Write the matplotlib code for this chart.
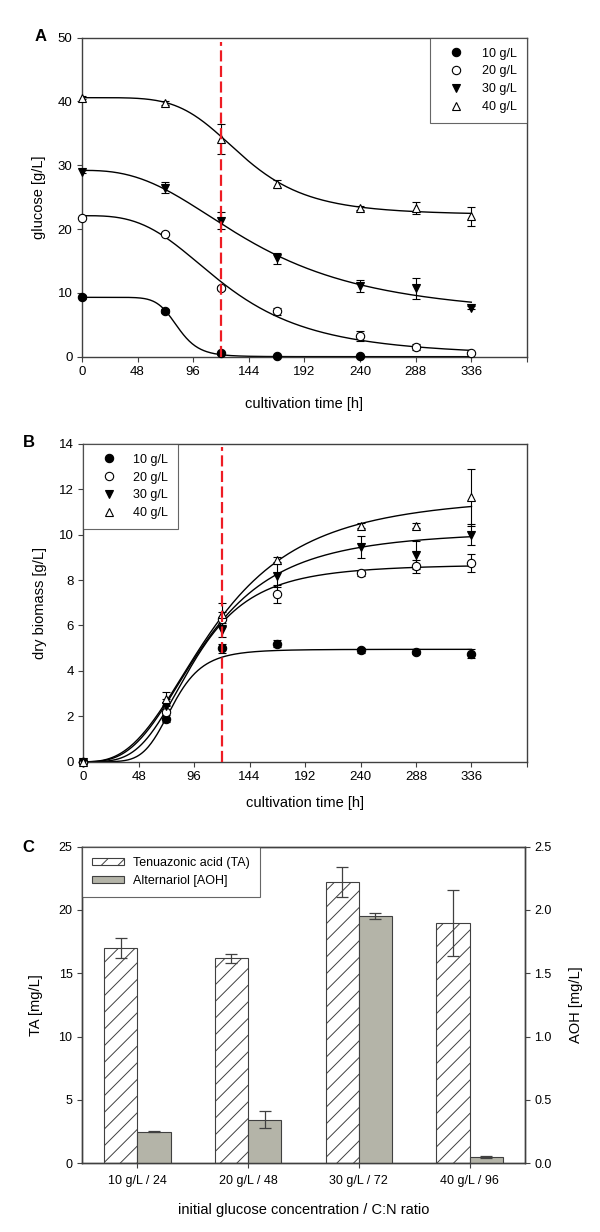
import matplotlib
matplotlib.use("Agg")
import matplotlib.pyplot as plt
from matplotlib.patches import Patch
import numpy as np

plt.rcParams['font.family'] = ['Liberation Sans', 'DejaVu Sans']
plt.rcParams['hatch.linewidth'] = 0.7

DARK = '#404040'
series = ['10 g/L', '20 g/L', '30 g/L', '40 g/L']
times = [0, 72, 120, 168, 240, 288, 336]

# ---- panel A: glucose [g/L] ----
glc_10_t = [0, 72, 120, 168, 240]
glc_10 = [9.3, 7.2, 0.5, 0.1, 0.05]
glc_10_err = [0.3, 0.3, 0.3, 0.1, 0.1]
glc_20 = [21.8, 19.3, 10.8, 7.1, 3.3, 1.5, 0.6]
glc_20_err = [0.2, 0.3, 0.3, 0.5, 0.8, 0.5, 0.2]
glc_30 = [29.0, 26.5, 21.3, 15.4, 11.1, 10.7, 7.7]
glc_30_err = [0.2, 0.9, 1.3, 0.9, 0.95, 1.65, 0.3]
glc_40 = [40.6, 39.8, 34.1, 27.1, 23.3, 23.3, 22.0]
glc_40_err = [0.2, 0.3, 2.4, 0.6, 0.3, 1.0, 1.5]

# fitted sigmoid (start, end, t50, slope)
glc_fit = {'10 g/L': (9.3, 0.0, 82.6, 9.0),
           '20 g/L': (22.1, 0.0, 125.0, 3.1),
           '30 g/L': (29.2, 6.0, 150.0, 2.6),
           '40 g/L': (40.6, 22.2, 139.0, 4.8)}

# ---- panel B: dry biomass [g/L] ----
bio_10 = [0.0, 1.9, 5.0, 5.2, 4.9, 4.85, 4.75]
bio_10_err = [0.05, 0.15, 0.2, 0.15, 0.1, 0.1, 0.2]
bio_20 = [0.0, 2.2, 6.3, 7.4, 8.3, 8.6, 8.75]
bio_20_err = [0.05, 0.3, 0.3, 0.4, 0.1, 0.3, 0.4]
bio_30 = [0.0, 2.45, 5.8, 8.2, 9.45, 9.1, 10.0]
bio_30_err = [0.05, 0.3, 0.3, 0.5, 0.5, 0.6, 0.45]
bio_40 = [0.0, 2.75, 6.5, 8.9, 10.4, 10.4, 11.65]
bio_40_err = [0.05, 0.3, 0.5, 0.1, 0.1, 0.1, 1.25]

bio_fit = {'10 g/L': (4.95, 77.5, 5.9),
           '20 g/L': (8.7, 95.2, 3.7),
           '30 g/L': (10.2, 103.6, 3.0),
           '40 g/L': (11.8, 113.0, 2.75)}

# ---- panel C: mycotoxins ----
conditions = ['10 g/L / 24', '20 g/L / 48', '30 g/L / 72', '40 g/L / 96']
ta = [17.0, 16.2, 22.2, 19.0]
ta_err = [0.8, 0.35, 1.2, 2.6]
aoh = [0.25, 0.345, 1.95, 0.05]
aoh_err = [0.005, 0.065, 0.025, 0.005]

markers = {'10 g/L': ('o', 'black'), '20 g/L': ('o', 'white'),
           '30 g/L': ('v', 'black'), '40 g/L': ('^', 'white')}


def style_axes(ax, size=9.5):
    for sp in ax.spines.values():
        sp.set_color(DARK)
        sp.set_linewidth(1.0)
    ax.tick_params(direction='out', length=3.3, width=0.8, color=DARK,
                   labelsize=size, pad=3.5)


def time_axis(ax):
    ax.set_xlim(0, 384)
    ax.set_xticks(np.arange(0, 385, 48))
    ax.set_xticklabels([str(v) for v in range(0, 337, 48)] + [''])


fig = plt.figure(figsize=(6, 12.32), dpi=100)
t_fit = np.linspace(0, 336, 400)

# ---------------- A ----------------
axA = fig.add_axes([0.1365, 0.7105, 0.7417, 0.2589])
style_axes(axA)
dataA = {'10 g/L': (glc_10_t, glc_10, glc_10_err),
         '20 g/L': (times, glc_20, glc_20_err),
         '30 g/L': (times, glc_30, glc_30_err),
         '40 g/L': (times, glc_40, glc_40_err)}
handlesA = []
for name in series:
    a, c, t50, n = glc_fit[name]
    axA.plot(t_fit, c + (a - c) / (1 + (t_fit / t50) ** n), color='black', lw=1.0, zorder=2)
    t, y, e = dataA[name]
    axA.errorbar(t, y, yerr=e, fmt='none', ecolor='black', elinewidth=0.8,
                 capsize=3, capthick=0.8, zorder=3)
    m, fc = markers[name]
    h, = axA.plot(t, y, ls='none', marker=m, ms=6, mfc=fc, mec='black',
                  mew=0.8, label=name, zorder=4, clip_on=False)
    handlesA.append(h)
axA.axvline(120, ymax=0.988, color='#ee1c24', lw=1.6, ls=(0, (5, 2)), zorder=5)
time_axis(axA)
axA.set_ylim(0, 50)
axA.set_yticks(range(0, 51, 10))
axA.set_xlabel('cultivation time [h]', fontsize=10.5, va='center')
axA.xaxis.set_label_coords(0.5, -0.147)
axA.set_ylabel('glucose [g/L]', fontsize=10.5, va='center')
axA.yaxis.set_label_coords(-0.0975, 0.5)
legA = axA.legend(handles=handlesA, loc='upper right', borderaxespad=0,
                  fontsize=9, frameon=True, fancybox=False, handlelength=2.6,
                  handletextpad=0.8, borderpad=0.8, labelspacing=0.46)
legA.get_frame().set_edgecolor(DARK)
legA.get_frame().set_linewidth(0.8)

# ---------------- B ----------------
axB = fig.add_axes([0.1385, 0.3817, 0.7398, 0.2581])
style_axes(axB)
dataB = {'10 g/L': (bio_10, bio_10_err), '20 g/L': (bio_20, bio_20_err),
         '30 g/L': (bio_30, bio_30_err), '40 g/L': (bio_40, bio_40_err)}
handlesB = []
for name in series:
    k, t50, n = bio_fit[name]
    r = (t_fit / t50) ** n
    axB.plot(t_fit, k * r / (1 + r), color='black', lw=1.0, zorder=2)
    y, e = dataB[name]
    axB.errorbar(times, y, yerr=e, fmt='none', ecolor='black', elinewidth=0.8,
                 capsize=3, capthick=0.8, zorder=3)
    m, fc = markers[name]
    h, = axB.plot(times, y, ls='none', marker=m, ms=6, mfc=fc, mec='black',
                  mew=0.8, label=name, zorder=4, clip_on=False)
    handlesB.append(h)
axB.axvline(120, ymax=0.99, color='#ee1c24', lw=1.6, ls=(0, (5, 2)), zorder=5)
time_axis(axB)
axB.set_ylim(0, 14)
axB.set_yticks(range(0, 15, 2))
axB.set_xlabel('cultivation time [h]', fontsize=10.5, va='center')
axB.xaxis.set_label_coords(0.5, -0.131)
axB.set_ylabel('dry biomass [g/L]', fontsize=10.5, va='center')
axB.yaxis.set_label_coords(-0.097, 0.5)
legB = axB.legend(handles=handlesB, loc='upper left', borderaxespad=0,
                  fontsize=9, frameon=True, fancybox=False, handlelength=2.6,
                  handletextpad=0.6, borderpad=0.8, labelspacing=0.46)
legB.get_frame().set_edgecolor(DARK)
legB.get_frame().set_linewidth(0.8)

# ---------------- C ----------------
axC = fig.add_axes([0.1365, 0.0558, 0.7385, 0.257])
axC2 = axC.twinx()
style_axes(axC, 9)
style_axes(axC2, 9)
x = np.arange(len(conditions))
w = 0.3
GRAY = '#b4b4a8'
axC.bar(x - w / 2, ta, width=w, facecolor='white', edgecolor=DARK,
        hatch='//', linewidth=0.8, zorder=2)
axC.errorbar(x - w / 2, ta, yerr=ta_err, fmt='none', ecolor=DARK,
             elinewidth=0.9, capsize=4.5, capthick=0.9, zorder=3)
axC2.bar(x + w / 2, aoh, width=w, facecolor=GRAY, edgecolor=DARK,
         linewidth=0.8, zorder=2)
axC2.errorbar(x + w / 2, aoh, yerr=aoh_err, fmt='none', ecolor=DARK,
              elinewidth=0.9, capsize=4.5, capthick=0.9, zorder=3)
axC.set_xlim(-0.5, 3.5)
axC.set_xticks(x)
axC.set_xticklabels(conditions)
axC.tick_params(axis='x', pad=5)
axC.set_ylim(0, 25)
axC.set_yticks(range(0, 26, 5))
axC2.set_ylim(0, 2.5)
axC2.set_yticks(np.arange(0, 2.51, 0.5))
axC2.set_yticklabels(['%.1f' % v for v in np.arange(0, 2.51, 0.5)])
axC.set_xlabel('initial glucose concentration / C:N ratio', fontsize=10.5, va='center')
axC.xaxis.set_label_coords(0.5, -0.149)
axC.set_ylabel('TA [mg/L]', fontsize=10.5, va='center')
axC.yaxis.set_label_coords(-0.1025, 0.5)
axC2.set_ylabel('AOH [mg/L]', fontsize=10.5, va='center', rotation=90)
axC2.yaxis.set_label_coords(1.115, 0.5)
legC = axC2.legend(handles=[Patch(facecolor='white', edgecolor=DARK, hatch='//',
                                  linewidth=0.8, label='Tenuazonic acid (TA)'),
                            Patch(facecolor=GRAY, edgecolor=DARK, linewidth=0.8,
                                  label='Alternariol [AOH]')],
                   loc='upper left', borderaxespad=0, fontsize=9, frameon=True,
                   fancybox=False, handlelength=2.6, handleheight=0.5,
                   handletextpad=0.7, borderpad=0.8, labelspacing=0.5)
legC.get_frame().set_edgecolor(DARK)
legC.get_frame().set_linewidth(0.8)

# panel letters
fig.text(41 / 600, 1 - 36.7 / 1232, 'A', fontsize=12, fontweight='bold', ha='center', va='center')
fig.text(29 / 600, 1 - 442 / 1232, 'B', fontsize=12, fontweight='bold', ha='center', va='center')
fig.text(28 / 600, 1 - 848 / 1232, 'C', fontsize=12, fontweight='bold', ha='center', va='center')

fig.savefig('out.png', dpi=100)
